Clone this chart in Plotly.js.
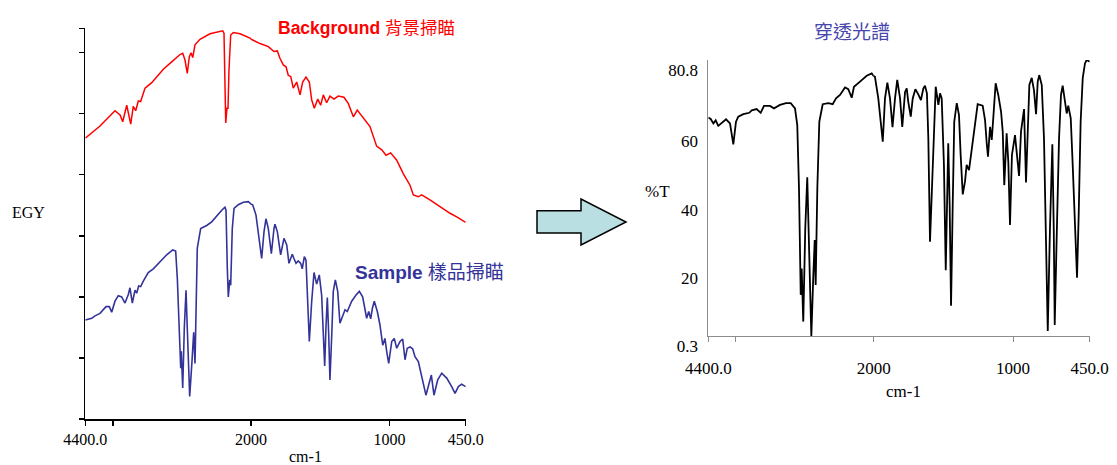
<!DOCTYPE html>
<html>
<head>
<meta charset="utf-8">
<script src="https://cdn.plot.ly/plotly-3.0.1.min.js"></script>
<style>html,body{margin:0;padding:0;background:#fff;}#chart{width:1117px;height:465px;}</style>
</head>
<body>
<div id="chart"></div>
<script>
// ---------- data (wavenumber in cm-1, descending) ----------
const bgWn = [4400,4187,3970,3897,3858,3800,3742,3705,3670,3632,3598,3535,3438,3270,3149,3028,2989,2956,2923,2894,2869,2844,2811,2739,2594,2497,2410,2391,2377,2366,2348,2333,2319,2294,2256,2159,2014,1935,1875,1834,1810,1791,1767,1747,1731,1713,1695,1670,1646,1627,1603,1579,1562,1543,1518,1497,1478,1454,1430,1401,1370,1329,1298,1261,1233,1189,1141,1093,1056,1025,992,948,901,852,828,792,768,708,636,563,515,450];
const bgEgy = [4.60,4.80,5.05,4.98,4.87,5.14,4.83,5.12,5.05,5.21,5.20,5.42,5.51,5.73,5.85,5.97,5.99,5.88,5.66,5.93,6.00,5.92,6.13,6.22,6.31,6.34,6.36,6.32,5.44,4.85,5.09,5.09,5.72,6.29,6.33,6.31,6.24,6.15,6.10,6.02,6.03,5.91,5.80,5.77,5.63,5.61,5.42,5.52,5.31,5.52,5.60,5.52,5.23,5.09,5.24,5.14,5.31,5.18,5.29,5.24,5.29,5.27,5.17,4.95,5.06,4.93,4.79,4.47,4.41,4.32,4.36,4.24,4.02,3.83,3.67,3.64,3.67,3.59,3.48,3.37,3.31,3.22];

const smWn = [4400,4307,4260,4187,4100,4052,4018,3970,3922,3873,3825,3777,3753,3719,3680,3656,3627,3598,3560,3488,3415,3318,3221,3134,3091,3067,3039,3018,3010,2989,2966,2941,2923,2888,2855,2830,2811,2797,2778,2729,2642,2569,2497,2424,2377,2362,2343,2329,2308,2294,2271,2246,2184,2112,2039,1988,1964,1940,1923,1906,1892,1875,1853,1834,1827,1810,1786,1762,1742,1726,1702,1690,1675,1659,1641,1630,1615,1603,1591,1579,1562,1545,1526,1507,1490,1478,1468,1459,1449,1439,1430,1417,1406,1391,1374,1358,1338,1321,1305,1273,1242,1218,1194,1177,1165,1150,1136,1124,1110,1088,1069,1049,1033,1020,1006,984,966,948,924,905,888,872,852,833,816,792,768,737,717,698,679,652,623,587,551,527,503,479,450];
const smEgy = [1.62,1.65,1.69,1.73,1.84,1.84,1.75,1.93,2.02,2.00,1.90,2.04,2.15,1.90,2.11,2.06,2.18,2.17,2.26,2.40,2.46,2.58,2.69,2.77,2.75,2.30,1.38,0.83,1.11,0.51,1.49,2.11,1.49,0.37,0.94,1.42,0.91,2.03,2.80,3.12,3.17,3.23,3.33,3.42,3.47,3.42,2.47,2.00,2.28,2.19,3.12,3.45,3.51,3.55,3.56,3.51,3.34,2.90,2.63,3.07,3.28,3.12,2.71,3.12,3.19,3.07,2.69,2.96,2.85,2.55,2.70,2.63,2.55,2.59,2.55,2.46,2.66,2.60,2.03,1.27,1.92,2.40,2.21,2.36,2.03,1.38,0.87,1.49,1.99,1.38,0.64,1.38,2.09,2.28,2.09,1.57,1.70,1.79,1.76,1.93,2.03,2.09,2.00,1.81,1.65,1.76,1.64,1.81,1.93,1.76,1.54,1.21,1.32,1.10,0.91,1.27,1.32,1.16,1.27,1.31,0.97,1.16,1.18,1.15,1.02,0.94,0.69,0.39,0.56,0.72,0.39,0.64,0.75,0.67,0.53,0.42,0.53,0.57,0.53];

const trWn = [4400,4365,4327,4293,4255,4206,4143,4085,4037,3998,3965,3892,3805,3770,3698,3640,3592,3505,3447,3360,3273,3204,3142,3109,3084,3059,3045,3022,2993,2964,2939,2905,2876,2856,2842,2818,2789,2740,2659,2595,2547,2489,2416,2369,2319,2286,2199,2102,2029,1991,1967,1935,1919,1902,1883,1865,1847,1831,1811,1795,1775,1763,1752,1734,1720,1701,1680,1661,1644,1632,1618,1608,1596,1582,1567,1555,1536,1524,1512,1496,1483,1472,1465,1455,1445,1433,1422,1404,1388,1376,1361,1345,1333,1316,1297,1273,1254,1218,1201,1189,1180,1165,1153,1142,1125,1106,1086,1074,1063,1046,1034,1022,1008,986,970,957,943,921,907,895,883,866,850,835,823,812,794,778,764,751,735,718,708,701,687,670,656,644,627,615,604,586,572,555,541,529,515,500,484,472,450];
const trT = [64.0,63.6,62.3,63.2,61.6,62.5,63.5,62.3,56.2,62.8,64.3,65.0,65.4,66.1,66.5,65.4,67.4,67.4,66.7,67.7,68.2,68.2,66.7,61.8,43.4,12.3,20.0,4.5,31.7,46.6,27.8,0.3,18.1,28.3,15.2,43.4,62.8,67.9,68.2,67.9,69.6,70.6,72.8,72.3,69.8,73.0,74.5,76.2,76.9,75.9,69.6,57.0,69.6,74.2,69.6,61.2,69.6,75.0,69.6,61.3,71.5,72.5,68.6,64.3,69.6,72.3,70.8,69.1,72.5,73.3,71.1,58.0,27.8,43.4,62.8,73.0,67.7,71.1,69.6,50.2,19.5,43.4,56.5,38.5,9.1,38.5,62.8,68.2,64.7,53.1,41.6,45.3,50.2,48.7,55.0,63.3,67.9,67.5,63.3,56.5,52.6,61.3,57.5,63.8,74.0,70.6,65.7,59.9,44.3,59.4,51.1,32.7,53.1,58.9,51.1,47.0,59.9,66.5,45.1,62.8,73.5,75.6,72.0,65.0,74.5,76.4,73.5,58.0,23.9,1.8,31.7,56.2,31.7,3.5,28.8,58.0,70.6,73.3,68.6,65.2,67.5,63.8,50.2,33.6,17.3,35.6,62.8,75.5,79.8,80.8,80.3];

// axis ticks
const hiTickVals = [4400, 4000];
const hiTickText = ['4400.0', ''];
const loTickVals = [2000, 1000, 450];
const loTickText = ['2000', '1000', '450.0'];
const egyTicks = [0, 1, 2, 3, 4, 5, 6, 6.4];
const tTickVals = [0.3, 20, 40, 60, 80.8];
const tTickText = ['0.3', '20', '40', '60', '80.8'];
const BREAK = 2000;

// ---------- helpers ----------
// split a descending spectrum at the scale break (2000 cm-1); keep one neighbour
// beyond the break so the clipped lines join up at the seam.
function part(wn, v, high) {
  const xs = [], ys = [];
  for (let i = 0; i < wn.length; i++) {
    const inside = high ? wn[i] >= BREAK : wn[i] <= BREAK;
    const nb = high ? (i > 0 && wn[i - 1] >= BREAK && wn[i] < BREAK)
                    : (i < wn.length - 1 && wn[i + 1] <= BREAK && wn[i] > BREAK);
    if (inside || nb) { xs.push(wn[i]); ys.push(v[i]); }
  }
  return {x: xs, y: ys};
}
function spec(wn, v, color, width, xa, xb, ya) {
  const a = part(wn, v, true), b = part(wn, v, false);
  const line = {color: color, width: width};
  return [
    {type: 'scatter', mode: 'lines', x: a.x, y: a.y, xaxis: xa, yaxis: ya, line: line, hoverinfo: 'skip'},
    {type: 'scatter', mode: 'lines', x: b.x, y: b.y, xaxis: xb, yaxis: ya, line: line, hoverinfo: 'skip'}
  ];
}

const W = 1117, H = 465;
const px = v => v / W, py = v => 1 - v / H;

const data = [].concat(
  spec(bgWn, bgEgy, '#ff0000', 1.5, 'x', 'x2', 'y'),
  spec(smWn, smEgy, '#333399', 1.6, 'x', 'x2', 'y'),
  spec(trWn, trT, '#000000', 1.8, 'x3', 'x4', 'y2')
);

const serif = '"Liberation Serif", "Times New Roman", serif';
const sans = '"Liberation Sans", Arial, "Noto Sans CJK TC", sans-serif';
const leftX = {
  showgrid: false, zeroline: false, showline: true, linecolor: '#000', linewidth: 1.5,
  ticks: 'outside', ticklen: 5, tickcolor: '#000', tickwidth: 1.3,
  tickfont: {family: serif, size: 16, color: '#000'}, anchor: 'y', fixedrange: true
};
const rightX = {
  showgrid: false, zeroline: false, showline: true, linecolor: '#8c8c8c', linewidth: 1,
  ticks: 'outside', ticklen: 5, tickcolor: '#8c8c8c', tickwidth: 1,
  tickfont: {family: serif, size: 17, color: '#000'}, anchor: 'y2', fixedrange: true,
  ticklabelstandoff: 12
};

const layout = {
  width: W, height: H,
  margin: {l: 0, r: 0, t: 0, b: 0},
  paper_bgcolor: '#fff', plot_bgcolor: 'rgba(0,0,0,0)',
  showlegend: false,
  xaxis: Object.assign({}, leftX, {domain: [px(85.3), px(251)], range: [4400, BREAK], tickmode: 'array', tickvals: hiTickVals, ticktext: hiTickText}),
  xaxis2: Object.assign({}, leftX, {domain: [px(251), px(465.7)], range: [BREAK, 450], tickmode: 'array', tickvals: loTickVals, ticktext: loTickText}),
  yaxis: {
    domain: [py(419), py(28.3)], range: [0, 6.4], anchor: 'x',
    showgrid: false, zeroline: false, showline: true, linecolor: '#000', linewidth: 1.5,
    ticks: 'outside', ticklen: 5, tickcolor: '#000', tickwidth: 1.3,
    tickmode: 'array', tickvals: egyTicks, showticklabels: false, fixedrange: true
  },
  xaxis3: Object.assign({}, rightX, {domain: [px(708.3), px(873.7)], range: [4400, BREAK], tickmode: 'array', tickvals: hiTickVals, ticktext: hiTickText}),
  xaxis4: Object.assign({}, rightX, {domain: [px(873.7), px(1089.7)], range: [BREAK, 450], tickmode: 'array', tickvals: loTickVals, ticktext: loTickText}),
  yaxis2: {
    domain: [py(336), py(60)], range: [0.3, 80.8], anchor: 'x3',
    showgrid: false, zeroline: false, showline: true, linecolor: '#8c8c8c', linewidth: 1,
    ticks: '', tickmode: 'array', tickvals: tTickVals, ticktext: tTickText,
    tickfont: {family: serif, size: 17, color: '#000'}, ticklabelstandoff: 6, ticklabelshift: 10,
    fixedrange: true
  },
  shapes: [{
    type: 'path', xref: 'paper', yref: 'paper',
    path: 'M' + px(537) + ',' + py(210.7) + ' L' + px(581) + ',' + py(210.7) + ' L' + px(581) + ',' + py(199) +
          ' L' + px(626) + ',' + py(222) + ' L' + px(581) + ',' + py(245) + ' L' + px(581) + ',' + py(233) +
          ' L' + px(537) + ',' + py(233) + ' Z',
    fillcolor: '#b9dfe2', line: {color: '#000', width: 1.5}
  }],
  annotations: [
    {text: 'EGY', x: px(28.5), y: py(212), xref: 'paper', yref: 'paper', showarrow: false, xanchor: 'center', yanchor: 'middle', font: {family: serif, size: 16, color: '#000'}},
    {text: 'cm-1', x: px(305.5), y: py(456), xref: 'paper', yref: 'paper', showarrow: false, xanchor: 'center', yanchor: 'middle', font: {family: serif, size: 16, color: '#000'}},
    {text: 'cm-1', x: px(903), y: py(391), xref: 'paper', yref: 'paper', showarrow: false, xanchor: 'center', yanchor: 'middle', font: {family: serif, size: 17, color: '#000'}},
    {text: '%T', x: px(657.5), y: py(192), xref: 'paper', yref: 'paper', showarrow: false, xanchor: 'center', yanchor: 'middle', font: {family: serif, size: 17, color: '#000'}},
    {text: '<b>Background</b> 背景掃瞄', x: px(366.5), y: py(28), xref: 'paper', yref: 'paper', showarrow: false, xanchor: 'center', yanchor: 'middle', font: {family: sans, size: 17.5, color: '#ff0000'}},
    {text: '<b>Sample</b> 樣品掃瞄', x: px(429), y: py(272), xref: 'paper', yref: 'paper', showarrow: false, xanchor: 'center', yanchor: 'middle', font: {family: sans, size: 19, color: '#333399'}},
    {text: '穿透光譜', x: px(852), y: py(31), xref: 'paper', yref: 'paper', showarrow: false, xanchor: 'center', yanchor: 'middle', font: {family: '"Noto Sans CJK TC", sans-serif', size: 19, color: '#4646ad'}}
  ]
};

Plotly.newPlot('chart', data, layout, {displayModeBar: false, staticPlot: true});
</script>
</body>
</html>
